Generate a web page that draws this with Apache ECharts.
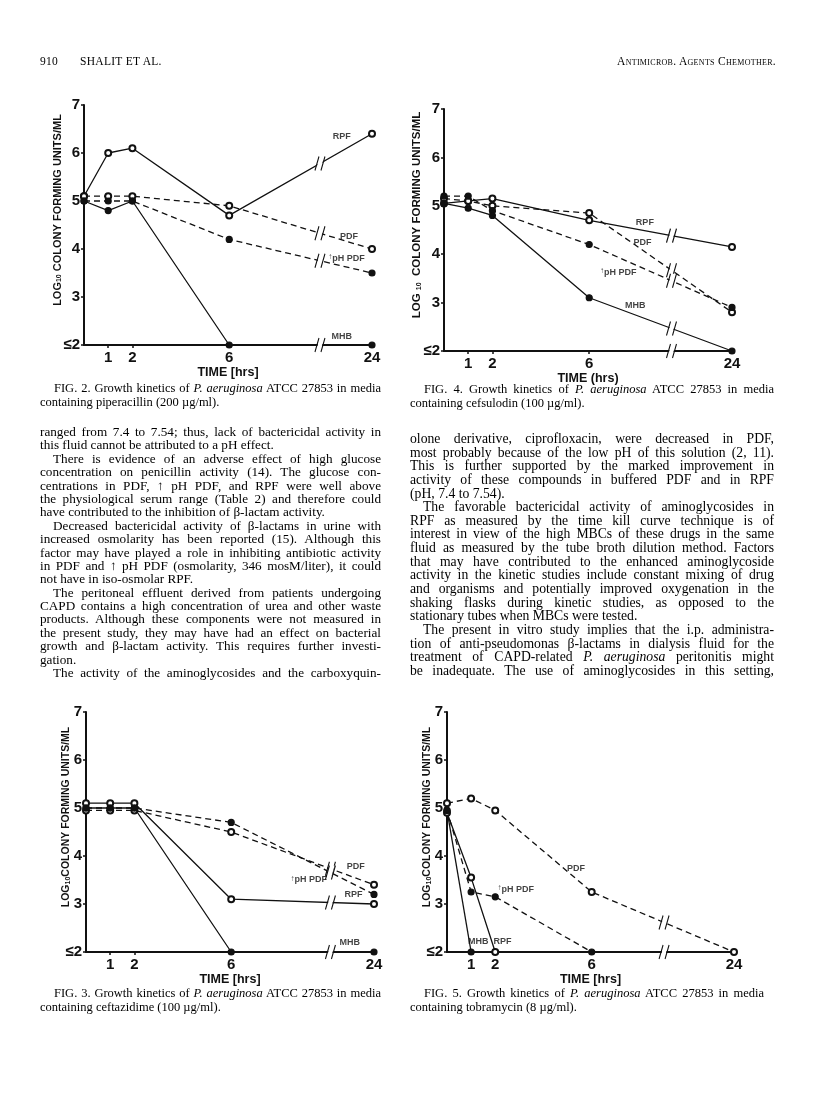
<!DOCTYPE html>
<html>
<head>
<meta charset="utf-8">
<script src="https://cdn.jsdelivr.net/npm/echarts@6.0.0/dist/echarts.min.js"></script>
<style>
html,body{margin:0;padding:0;background:#fff;}
#page{position:relative;width:816px;height:1096px;overflow:hidden;background:#fff;}
#chart{position:absolute;left:0;top:0;width:816px;height:1096px;}
.txt{position:absolute;font-family:"Liberation Serif","Times New Roman",serif;color:#000;}
.col .ln{height:13.4px;line-height:13.4px;font-size:13.2px;white-space:nowrap;text-align:justify;text-align-last:justify;}
.colr .ln{height:13.65px;line-height:13.65px;font-size:13.7px;}
.col .ln.e{text-align-last:left;}
.col .ln.p{text-indent:13px;}
.cap{font-size:12.5px;}
.cap .ln{height:14px;line-height:14px;white-space:nowrap;}
.cap .j{text-align:justify;text-align-last:justify;text-indent:14px;}
.hdr{font-size:11.5px;letter-spacing:0.3px;}
</style>
</head>
<body>
<div id="page">
<div id="chart"></div>

<div class="txt hdr" style="left:40px;top:55px;">910</div>
<div class="txt hdr" style="left:80px;top:55px;">SHALIT ET AL.</div>
<div class="txt hdr" style="right:40px;top:55px;font-variant:small-caps;">Antimicrob. Agents Chemother.</div>

<div class="txt cap" style="left:40px;top:381px;width:341px;">
<div class="ln j">FIG. 2. Growth kinetics of <i>P. aeruginosa</i> ATCC 27853 in media</div>
<div class="ln">containing piperacillin (200 µg/ml).</div>
</div>
<div class="txt cap" style="left:410px;top:382px;width:364px;">
<div class="ln j">FIG. 4. Growth kinetics of <i>P. aeruginosa</i> ATCC 27853 in media</div>
<div class="ln">containing cefsulodin (100 µg/ml).</div>
</div>
<div class="txt cap" style="left:40px;top:986px;width:341px;">
<div class="ln j">FIG. 3. Growth kinetics of <i>P. aeruginosa</i> ATCC 27853 in media</div>
<div class="ln">containing ceftazidime (100 µg/ml).</div>
</div>
<div class="txt cap" style="left:410px;top:986px;width:354px;">
<div class="ln j">FIG. 5. Growth kinetics of <i>P. aeruginosa</i> ATCC 27853 in media</div>
<div class="ln">containing tobramycin (8 µg/ml).</div>
</div>

<div class="txt col" style="left:40px;top:425px;width:341px;">
<div class="ln">ranged from 7.4 to 7.54; thus, lack of bactericidal activity in</div>
<div class="ln e">this fluid cannot be attributed to a pH effect.</div>
<div class="ln p">There is evidence of an adverse effect of high glucose</div>
<div class="ln">concentration on penicillin activity (14). The glucose con-</div>
<div class="ln">centrations in PDF, ↑ pH PDF, and RPF were well above</div>
<div class="ln">the physiological serum range (Table 2) and therefore could</div>
<div class="ln e">have contributed to the inhibition of β-lactam activity.</div>
<div class="ln p">Decreased bactericidal activity of β-lactams in urine with</div>
<div class="ln">increased osmolarity has been reported (15). Although this</div>
<div class="ln">factor may have played a role in inhibiting antibiotic activity</div>
<div class="ln">in PDF and ↑ pH PDF (osmolarity, 346 mosM/liter), it could</div>
<div class="ln e">not have in iso-osmolar RPF.</div>
<div class="ln p">The peritoneal effluent derived from patients undergoing</div>
<div class="ln">CAPD contains a high concentration of urea and other waste</div>
<div class="ln">products. Although these components were not measured in</div>
<div class="ln">the present study, they may have had an effect on bacterial</div>
<div class="ln">growth and β-lactam activity. This requires further investi-</div>
<div class="ln e">gation.</div>
<div class="ln p">The activity of the aminoglycosides and the carboxyquin-</div>
</div>

<div class="txt col colr" style="left:410px;top:432px;width:364px;">
<div class="ln">olone derivative, ciprofloxacin, were decreased in PDF,</div>
<div class="ln">most probably because of the low pH of this solution (2, 11).</div>
<div class="ln">This is further supported by the marked improvement in</div>
<div class="ln">activity of these compounds in buffered PDF and in RPF</div>
<div class="ln e">(pH, 7.4 to 7.54).</div>
<div class="ln p">The favorable bactericidal activity of aminoglycosides in</div>
<div class="ln">RPF as measured by the time kill curve technique is of</div>
<div class="ln">interest in view of the high MBCs of these drugs in the same</div>
<div class="ln">fluid as measured by the tube broth dilution method. Factors</div>
<div class="ln">that may have contributed to the enhanced aminoglycoside</div>
<div class="ln">activity in the kinetic studies include constant mixing of drug</div>
<div class="ln">and organisms and potentially improved oxygenation in the</div>
<div class="ln">shaking flasks during kinetic studies, as opposed to the</div>
<div class="ln e">stationary tubes when MBCs were tested.</div>
<div class="ln p">The present in vitro study implies that the i.p. administra-</div>
<div class="ln">tion of anti-pseudomonas β-lactams in dialysis fluid for the</div>
<div class="ln">treatment of CAPD-related <i>P. aeruginosa</i> peritonitis might</div>
<div class="ln">be inadequate. The use of aminoglycosides in this setting,</div>
</div>
</div>

<script>
// ---------------- DATA ----------------
const HOURS = [0, 1, 2, 6, 24];
const TICK_HOURS = [1, 2, 6, 24];
const Y_TICK_LABELS = { 2: '≤2', 3: '3', 4: '4', 5: '5', 6: '6', 7: '7' };

// FIG. 2 piperacillin (200 µg/ml)
const fig2RPF   = [5.1, 6.0, 6.1, 4.7, 6.4];
const fig2PDF   = [5.1, 5.1, 5.1, 4.9, 4.0];
const fig2PhPDF = [5.0, 5.0, 5.0, 4.2, 3.5];
const fig2MHB   = [5.0, 4.8, 5.0, 2.0, 2.0];

// FIG. 4 cefsulodin (100 µg/ml)
const fig4RPF   = [5.05, 5.1, 5.15, 4.7, 4.15];
const fig4PDF   = [5.15, 5.1, 5.0, 4.85, 2.8];
const fig4PhPDF = [5.2, 5.2, 4.9, 4.2, 2.9];
const fig4MHB   = [5.05, 4.95, 4.8, 3.1, 2.0];

// FIG. 3 ceftazidime (100 µg/ml)
const fig3RPF   = [5.1, 5.1, 5.1, 3.1, 3.0];
const fig3PDF   = [4.95, 4.95, 4.95, 4.5, 3.4];
const fig3PhPDF = [5.0, 5.0, 5.0, 4.7, 3.2];
const fig3MHB   = [5.0, 5.0, 5.0, 2.0, 2.0];

// FIG. 5 tobramycin (8 µg/ml)
const fig5PDF   = [5.1, 5.2, 4.95, 3.25, 2.0];
const fig5PhPDF = [4.95, 3.25, 3.15, 2.0];
const fig5RPF   = [4.9, 3.55, 2.0];
const fig5MHB   = [4.95, 2.0];

// ---------------- LAYOUT / STYLE ----------------
const X_END = 11.9;                       // axis position used for 24 h (broken axis)
const toAxis = h => h <= 6 ? h : 6 + (h - 6) * (X_END - 6) / 18;
const INK = '#111';
const SANS = '"Liberation Sans", Arial, sans-serif';

const STYLES = {
  RPF:   { dashed: false, open: true },
  PDF:   { dashed: true,  open: true },
  PhPDF: { dashed: true,  open: false },
  MHB:   { dashed: false, open: false }
};

const figures = [
  { grid: { left: 84, top: 105, width: 288, height: 240 }, xName: 'TIME [hrs]', nameGap: 21, nameSize: 11, sub: 'tight', breakAt: 9.75,
    series: { RPF: fig2RPF, PDF: fig2PDF, PhPDF: fig2PhPDF, MHB: fig2MHB },
    labels: [['RPF', 10.65, 6.35], ['PDF', 10.95, 4.27], ['↑pH PDF', 10.85, 3.8], ['MHB', 10.65, 2.17]] },
  { grid: { left: 444, top: 109, width: 288, height: 242 }, xName: 'TIME (hrs)', nameGap: 21, nameSize: 11.5, sub: 'spaced', breakAt: 9.4,
    series: { RPF: fig4RPF, PDF: fig4PDF, PhPDF: fig4PhPDF, MHB: fig4MHB },
    labels: [['RPF', 8.3, 4.65], ['PDF', 8.2, 4.24], ['↑pH PDF', 7.2, 3.62], ['MHB', 7.9, 2.95]] },
  { grid: { left: 86, top: 712, width: 288, height: 240 }, xName: 'TIME [hrs]', nameGap: 14, nameSize: 10.5, sub: 'joined', breakAt: 10.1,
    series: { RPF: fig3RPF, PDF: fig3PDF, PhPDF: fig3PhPDF, MHB: fig3MHB },
    labels: [['PDF', 11.15, 3.78], ['↑pH PDF', 9.2, 3.5], ['RPF', 11.05, 3.2], ['MHB', 10.9, 2.2]] },
  { grid: { left: 447, top: 712, width: 287, height: 240 }, xName: 'TIME [hrs]', nameGap: 14, nameSize: 10.5, sub: 'joined', breakAt: 9.0,
    series: { PDF: fig5PDF, PhPDF: fig5PhPDF, RPF: fig5RPF, MHB: fig5MHB },
    labels: [['PDF', 5.35, 3.74], ['↑pH PDF', 2.85, 3.3], ['MHB', 1.3, 2.21], ['RPF', 2.3, 2.21]] }
];

const Y_NAMES = {
  tight:  '{a|LOG}{s|10}{a| COLONY FORMING UNITS/ML}',
  spaced: '{a|LOG }{s|10}{a|  COLONY FORMING UNITS/ML}',
  joined: '{a|LOG}{s|10}{a|COLONY FORMING UNITS/ML}'
};

const SLASH = 'path://M0,16L4,0M6,16L10,0';
const GAP = 'path://M0.8,16L5.2,16L9.2,0L4.8,0Z';
function breakMarks(x, y) {
  return [
    { coord: [x, y], symbol: GAP, symbolSize: [8.4, 14], itemStyle: { color: '#fff', borderWidth: 0 } },
    { coord: [x, y], symbol: SLASH, symbolSize: [10, 14], itemStyle: { color: 'none', borderColor: INK, borderWidth: 1.3 } }
  ];
}
function valueAt(xs, ys, x) {
  for (let i = 0; i < xs.length - 1; i++) {
    if (xs[i] <= x && x <= xs[i + 1]) return ys[i] + (ys[i + 1] - ys[i]) * (x - xs[i]) / (xs[i + 1] - xs[i]);
  }
  return null;
}
function hourLabel(v) {
  const h = TICK_HOURS.find(t => Math.abs(toAxis(t) - v) < 1e-6);
  return h === undefined ? '' : String(h);
}

const option = { animation: false, grid: [], xAxis: [], yAxis: [], series: [] };

figures.forEach((f, gi) => {
  option.grid.push(Object.assign({ containLabel: false }, f.grid));
  option.xAxis.push({
    gridIndex: gi, type: 'value', min: 0, max: X_END,
    name: f.xName, nameLocation: 'middle', nameGap: 21,
    nameTextStyle: { fontFamily: SANS, fontWeight: 'bold', fontSize: 12.5, color: INK },
    axisLine: { show: true, onZero: false, lineStyle: { color: INK, width: 2 } },
    axisTick: { show: true, length: 3, customValues: TICK_HOURS.map(toAxis), lineStyle: { color: INK, width: 1.5 } },
    axisLabel: { show: true, customValues: TICK_HOURS.map(toAxis), formatter: hourLabel, margin: 5,
      fontFamily: SANS, fontWeight: 'bold', fontSize: 15, color: INK },
    splitLine: { show: false }
  });
  option.yAxis.push({
    gridIndex: gi, type: 'value', min: 2, max: 7, interval: 1,
    name: Y_NAMES[f.sub],
    nameLocation: 'middle', nameRotate: 90, nameGap: f.nameGap, nameMoveOverlap: false,
    nameTextStyle: { padding: [0, 0, 0, 30], rich: {
      a: { fontFamily: SANS, fontWeight: 'bold', fontSize: f.nameSize, color: INK, verticalAlign: 'bottom', lineHeight: 13 },
      s: { fontFamily: SANS, fontWeight: 'bold', fontSize: 7, color: INK, verticalAlign: 'bottom', lineHeight: 9 } } },
    axisLine: { show: true, lineStyle: { color: INK, width: 2 } },
    axisTick: { show: true, length: 3, lineStyle: { color: INK, width: 1.5 } },
    axisLabel: { formatter: v => Y_TICK_LABELS[v] || '', margin: 4,
      fontFamily: SANS, fontWeight: 'bold', fontSize: 15, color: INK },
    splitLine: { show: false }
  });

  const names = Object.keys(f.series);
  names.forEach((key, si) => {
    const vals = f.series[key];
    const xs = HOURS.slice(0, vals.length).map(toAxis);
    const st = STYLES[key];
    const marks = [];
    const yb = valueAt(xs, vals, f.breakAt);
    if (yb !== null && yb > 2.001) marks.push(...breakMarks(f.breakAt, yb));
    if (si === names.length - 1) marks.push(...breakMarks(f.breakAt, 2));
    option.series.push({
      type: 'line', name: key, xAxisIndex: gi, yAxisIndex: gi,
      data: xs.map((x, i) => [x, vals[i]]),
      clip: false, z: 3,
      symbol: st.open ? 'emptyCircle' : 'circle', symbolSize: 6, showSymbol: true,
      lineStyle: { color: INK, width: 1.3, type: st.dashed ? [6, 4] : 'solid' },
      itemStyle: { color: INK, borderColor: INK, borderWidth: 1.2 },
      markPoint: { symbol: 'circle', label: { show: false }, silent: true, data: marks }
    });
  });

  option.series.push({
    type: 'scatter', xAxisIndex: gi, yAxisIndex: gi, z: 5, silent: true,
    symbolSize: 1, itemStyle: { color: 'rgba(0,0,0,0)' },
    data: f.labels.map(l => ({ name: l[0], value: [l[1], l[2]] })),
    label: {
      show: true, position: 'inside', color: INK,
      formatter: p => p.name.startsWith('↑') ? '{u|↑}{t|' + p.name.slice(1) + '}' : '{t|' + p.name + '}',
      rich: {
        u: { fontFamily: SANS, fontSize: 8, fontWeight: 'bold', color: INK, verticalAlign: 'top', lineHeight: 10 },
        t: { fontFamily: SANS, fontSize: 9, fontWeight: 'bold', color: INK, lineHeight: 11 }
      }
    }
  });
});

const chart = echarts.init(document.getElementById('chart'), null, { renderer: 'canvas' });
chart.setOption(option);
</script>
</body>
</html>
